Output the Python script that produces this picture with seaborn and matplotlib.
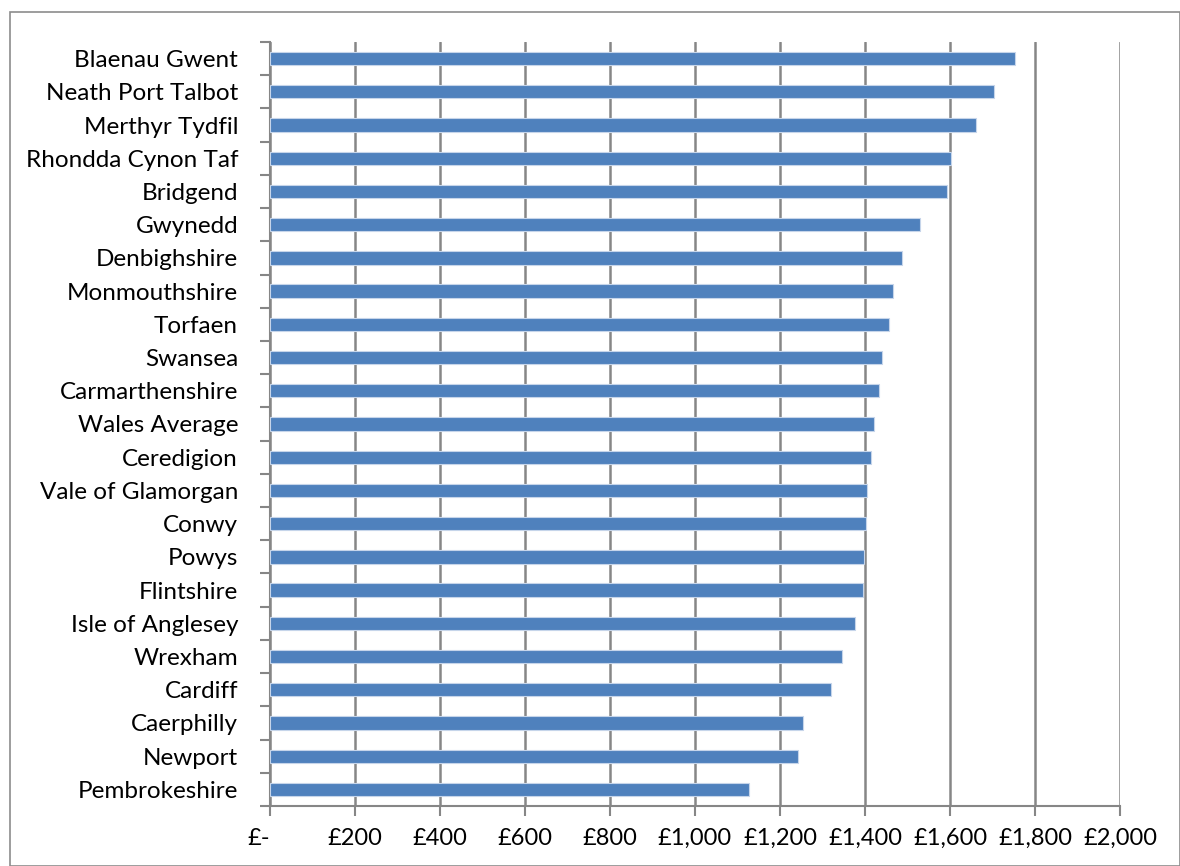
import matplotlib
matplotlib.use("Agg")
import matplotlib.pyplot as plt
import matplotlib.transforms as mtransforms
import seaborn as sns
import pandas as pd
import numpy as np
from matplotlib.patches import Rectangle
from matplotlib.ticker import FixedLocator, FixedFormatter

areas = ["Blaenau Gwent", "Neath Port Talbot", "Merthyr Tydfil", "Rhondda Cynon Taf",
         "Bridgend", "Gwynedd", "Denbighshire", "Monmouthshire", "Torfaen", "Swansea",
         "Carmarthenshire", "Wales Average", "Ceredigion", "Vale of Glamorgan", "Conwy",
         "Powys", "Flintshire", "Isle of Anglesey", "Wrexham", "Cardiff", "Caerphilly",
         "Newport", "Pembrokeshire"]
values = [1754, 1703, 1660, 1603, 1593, 1529, 1487, 1467, 1456, 1441,
          1434, 1420, 1413, 1404, 1402, 1397, 1395, 1377, 1346, 1321, 1253,
          1242, 1128]
tick_values = [0, 200, 400, 600, 800, 1000, 1200, 1400, 1600, 1800, 2000]
tick_labels = ["£-", "£200", "£400", "£600", "£800", "£1,000", "£1,200",
               "£1,400", "£1,600", "£1,800", "£2,000"]

df = pd.DataFrame({"area": areas, "value": values})

sns.set_theme(style="white")
plt.rcParams["font.family"] = ["Lato", "DejaVu Sans"]

fig = plt.figure(figsize=(11.8, 8.66), dpi=100)
fig.patch.set_facecolor("white")
# outer chart border
fig.add_artist(Rectangle((10 / 1180, 0), 1 - 10 / 1180, 1 - 12 / 866,
                         transform=fig.transFigure, fill=False,
                         edgecolor="#8c8c8c", linewidth=1.2))

ax = fig.add_axes([270 / 1180, 1 - 806 / 866, 850 / 1180, (806 - 42) / 866])
sns.barplot(data=df, x="value", y="area", orient="h", color="#4F81BD",
            saturation=1, width=0.4, edgecolor="#c6d5ea", linewidth=0.8, ax=ax,
            zorder=3)

ax.set_xlim(0, 2000)
ax.set_ylim(len(areas) - 0.5, -0.5)
ax.set_xlabel("")
ax.set_ylabel("")

ax.xaxis.set_major_locator(FixedLocator(tick_values))
ax.xaxis.set_major_formatter(FixedFormatter(tick_labels))
ax.tick_params(axis="x", which="major", length=7, width=1.5, color="#868686",
               labelsize=17, labelcolor="black", pad=9, direction="out", bottom=True)

ax.yaxis.set_major_locator(FixedLocator(np.arange(len(areas))))
ax.yaxis.set_major_formatter(FixedFormatter(areas))
ax.yaxis.set_minor_locator(FixedLocator(np.arange(len(areas) + 1) - 0.5))
ax.tick_params(axis="y", which="major", length=0, labelsize=17.5, labelcolor="black", pad=23)
ax.tick_params(axis="y", which="minor", length=7, width=1.5, color="#868686",
               direction="out", left=True)

ax.grid(axis="x", color="#868686", linewidth=1.8, zorder=0)
ax.grid(axis="y", visible=False)
ax.set_axisbelow(True)

for s in ["top", "right"]:
    ax.spines[s].set_visible(False)
for s in ["left", "bottom"]:
    ax.spines[s].set_visible(True)
    ax.spines[s].set_color("#868686")
    ax.spines[s].set_linewidth(1.5)

# Excel accounting format places the zero label slightly left
fig.canvas.draw()
first = ax.get_xticklabels()[0]
first.set_transform(first.get_transform() +
                    mtransforms.ScaledTranslation(-11 / 100, 0, fig.dpi_scale_trans))

fig.savefig("out.png", dpi=100, facecolor="white")
